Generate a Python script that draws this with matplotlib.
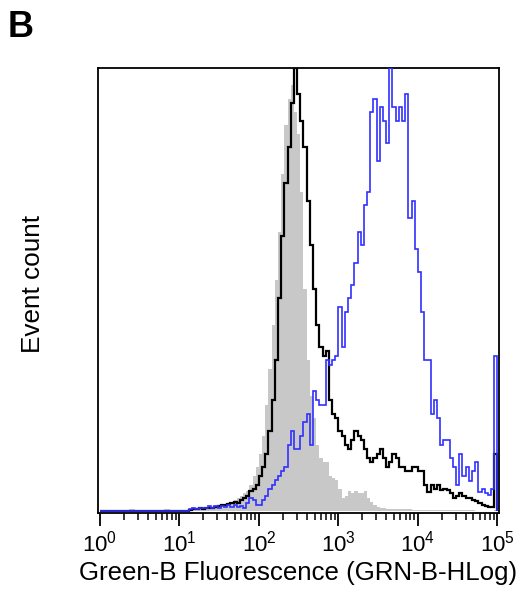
import numpy as np
import matplotlib
matplotlib.use("Agg")
import matplotlib.pyplot as plt
from matplotlib.ticker import LogLocator, LogFormatterSciNotation, NullFormatter

plt.rcParams['font.family'] = ['Liberation Sans', 'DejaVu Sans']

# channel layout: 125 channels of 0.04 decade from 10^0 to 10^5
channel_width_log = 0.04
n_channels = 125

# counts (percent of max) for channels 28..124 (channels 0..27 are near zero)
zeros_lead = 28
isotype_gray = [0.3, 0.3, 0.3, 0.5, 0.5, 0.5, 0.8, 0.8, 1.0, 1.0,
                1.2, 1.5, 1.5, 2.0, 2.5, 3.0, 3.5, 4.0, 4.5, 6.0,
                8, 10, 13, 17, 24, 32, 42, 52, 63, 76,
                87, 93, 96, 90, 85, 72, 50, 34, 26, 21,
                15, 12, 11, 11, 8, 7.5, 7, 5, 3, 3.5,
                4.5, 4, 4.5, 4, 4, 4.5, 3, 2, 1.5, 1,
                0.8, 0.7, 0.6, 0.6, 0.5, 0.5, 0.5, 0.4, 0.4, 0.4,
                0.3, 0.3, 0.3, 0.3, 0.3, 0.3, 0.2, 0.2, 0.2, 0.2,
                0.2, 0.2, 0.2, 0.2, 0.2, 0.2, 0.2, 0.2, 0.2, 0.2,
                0.1, 0.1, 0.1, 0.1, 0.1, 0.1, 0.3]
unstained_black = [0.3, 0.5, 0.5, 0.8, 0.5, 0.8, 0.8, 0.8, 1.0, 1.2,
                   1.4, 1.4, 1.6, 1.8, 2.0, 1.8, 2.5, 3.0, 3.5, 4.5,
                   5, 6, 8, 10, 13, 18, 25, 34, 48, 62,
                   74, 82, 92, 100, 94, 88, 82, 70, 60, 50,
                   42, 37, 35, 36, 25, 22, 21, 18, 17, 15,
                   14, 16, 18, 17, 16, 14, 12, 11, 12, 13,
                   14, 12, 10, 11, 13, 12, 10, 10, 9, 9,
                   10, 10, 9, 9, 6, 4.4, 6, 5, 6, 4.8,
                   5, 4.8, 4, 3, 3.5, 4, 3.5, 3, 3, 2.5,
                   2.2, 1.8, 1.4, 1.2, 1.0, 1.0, 13]
stained_blue = [0.5, 0.8, 0.5, 0.8, 0.8, 0.8, 1.2, 0.8, 1.2, 0.8,
                1.2, 1.0, 1.4, 1.0, 1.4, 1.0, 1.2, 0.7, 1.8, 3.0,
                2.5, 1.4, 1.4, 2.5, 3.5, 5, 6, 7, 8, 9,
                10, 15, 18, 14, 14, 17, 20, 22, 15, 27,
                25, 24, 24, 34, 33, 34, 35, 46, 37, 45,
                48, 51, 56, 63, 60, 69, 72, 90, 93, 79,
                91, 88, 83, 100, 91, 88, 91, 88, 94, 66,
                70, 59, 54, 45, 34, 34, 22, 25, 21, 15,
                16, 16, 12, 10, 6, 13, 8, 10, 6.7, 9,
                11, 4.4, 5, 4, 3.7, 5, 35]

lead_gray = [0, 0, 0, 0, 0, 0, 0, 0, 0, 0.4, 0.4, 0, 0, 0,
             0, 0, 0, 0, 0, 0, 0.4, 0.4, 0, 0, 0, 0, 0.2, 0.2]

x_ticks_exp = [0, 1, 2, 3, 4, 5]
x_label = "Green-B Fluorescence (GRN-B-HLog)"
y_label = "Event count"
panel_label = "B"

edges = 10.0 ** (channel_width_log * np.arange(n_channels + 1))
gray = np.array(lead_gray + isotype_gray)
black = np.array([0.0] * zeros_lead + unstained_black)
blue = np.array([0.0] * zeros_lead + stained_blue)

fig = plt.figure(figsize=(5.2, 5.95), dpi=100)
ax = fig.add_axes([98 / 520, 1 - 513 / 595, 401 / 520, (513 - 67.5) / 595])

ax.fill_between(edges, np.append(gray, gray[-1]), step='post',
                facecolor='#c8c8c8', edgecolor='none', linewidth=0, zorder=1)
ax.stairs(black, edges, color='black', linewidth=1.6, zorder=2)
ax.stairs(blue, edges, color='#3030ff', linewidth=1.2, zorder=3)

ax.set_xscale('log')
ax.set_xlim(10 ** -0.025, 10 ** 5.02)
ax.set_ylim(-0.4, 100)
ax.set_yticks([])
ax.xaxis.set_minor_locator(LogLocator(base=10, subs=np.arange(2, 10), numticks=100))
ax.xaxis.set_major_formatter(LogFormatterSciNotation())
ax.xaxis.set_minor_formatter(NullFormatter())
ax.set_xticks([10.0 ** e for e in x_ticks_exp])
ax.tick_params(axis='x', which='major', direction='out', length=9, width=1.3,
               labelsize=16, pad=4)
ax.tick_params(axis='x', which='minor', direction='out', length=5, width=1.1)
for s in ax.spines.values():
    s.set_linewidth(1.3)

ax.set_xlabel(x_label, fontsize=18.6, labelpad=3)
fig.text(33 / 520, 1 - 284 / 595, y_label, rotation=90, fontsize=18.8,
         ha='center', va='center')
fig.text(8 / 520, 1 - 37 / 595, panel_label, fontsize=26, fontweight='bold',
         ha='left', va='baseline')

fig.savefig('out.png', dpi=100)
